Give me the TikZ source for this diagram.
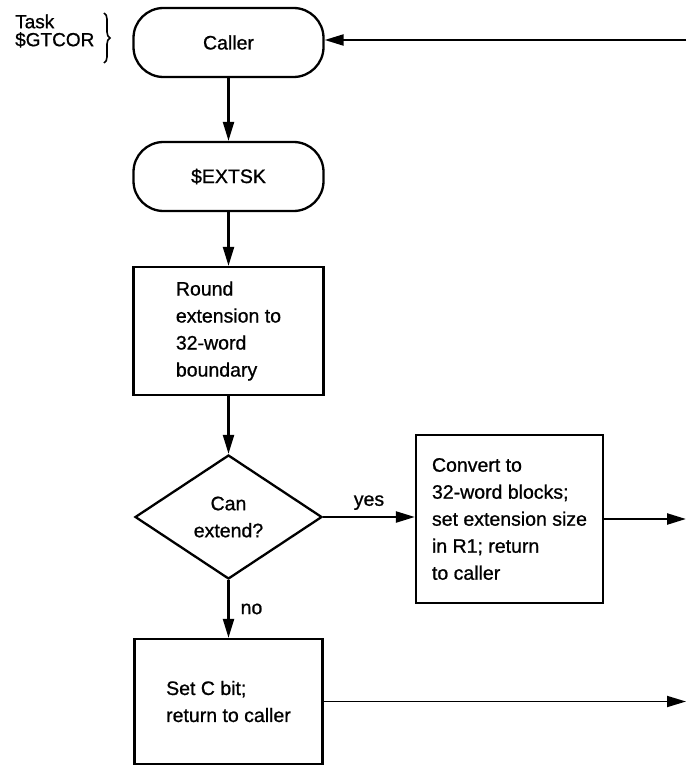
\documentclass[tikz,border=0pt]{standalone}
\usepackage{fontspec}
\setmainfont{Liberation Sans}[FakeBold=0.9]
\usetikzlibrary{shapes.geometric,arrows.meta,decorations.pathreplacing}
\begin{document}
\begin{tikzpicture}[x=1pt,y=-1pt,
  every node/.style={font=\fontsize{19.5}{27}\selectfont},
  flow/.style={line width=2.3pt, -{Triangle[length=19pt,width=11pt]}},
  terminal/.style={draw, line width=2.3pt, rounded corners=30pt, minimum width=190pt, minimum height=69pt, inner sep=0pt},
  process/.style={draw, line width=2.3pt, align=left, inner sep=0pt},
  decision/.style={draw, line width=2.3pt, diamond, inner sep=0pt, align=center},
  lbl/.style={inner sep=0pt}]
\useasboundingbox (0,0) rectangle (686,765);

\node[terminal] (caller) at (228.5,42.5) {Caller};
\node[terminal] (extsk) at (228.5,176.5) {\$EXTSK};
\node[process, minimum width=190pt, minimum height=128pt] (round) at (228.5,331) {Round\\extension to\\32-word\\boundary};
\node[decision, minimum width=187pt, minimum height=124pt] (can) at (228.5,517) {Can\\extend?};
\node[process, minimum width=187pt, minimum height=168pt] (conv) at (509.5,519) {Convert to\\32-word blocks;\\set extension size\\in R1; return\\to caller};
\node[process, minimum width=188pt, minimum height=125pt] (setc) at (228.5,701.5) {Set C bit;\\return to caller};
\node[lbl, align=left, font=\fontsize{19}{18}\selectfont, anchor=west] (task) at (15,31) {Task\\\$GTCOR};

\draw[line width=1.6pt, decorate, decoration={brace, amplitude=6pt}] (104,13) -- (104,63);

\coordinate (inR) at (686,40);
\coordinate (outA) at (686,518);
\coordinate (outB) at (686,702);

\draw[flow] (inR) -- (inR -| caller.east);
\draw[flow] (caller) -- (extsk);
\draw[flow] (extsk) -- (round);
\draw[flow] (round) -- (can);
\draw[flow] (can) -- node[lbl, right=11pt] (no) {no} (setc);
\draw[flow] (can.east) -- node[lbl, above=6pt] (yes) {yes} (can.east -| conv.west);
\draw[flow] (conv.east) -- (conv.east -| outA);
\draw[flow, line width=1.8pt] (setc.east) -- (setc.east -| outB);
\end{tikzpicture}
\end{document}
